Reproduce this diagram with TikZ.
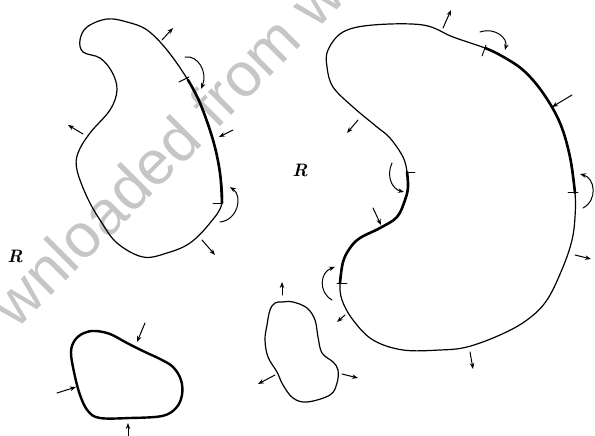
\documentclass[tikz,border=0pt]{standalone}
\usepackage{fontspec}
\usetikzlibrary{arrows.meta}
\newfontfamily\wmfont{Liberation Sans}
\tikzset{
    lab/.style={
        font=\fontsize{18}{20}\selectfont\bfseries\itshape
    }
}

\begin{document}
\begin{tikzpicture}[x=1pt,y=-1pt, line cap=round, line join=round]

\tikzset{
  thin/.style={draw=black, line width=1.2pt},
  thick/.style={draw=black, line width=2.6pt},
  tick/.style={draw=black, line width=0.9pt},
  arr/.style={draw=black, line width=1.0pt, -{Stealth[length=6pt,width=4.5pt]}},
  wmark/.style={font=\wmfont\fontsize{62}{64}\selectfont, text=gray!45},
}

\useasboundingbox (0,0) rectangle (595,436);

% watermark
\begin{scope}
\clip (0,0) rectangle (595,436);
\node[wmark, rotate=45] (wm) at (167,149) {wnloaded from w};
\end{scope}

% region 1 (upper left)
\draw[thin] plot[smooth cycle, tension=0.6] coordinates {
  (107,19) (127,22) (147,30) (167,50) (188,80) (200,103) (213,140) (220,173)
  (222,203) (210,223) (190,243) (167,253) (143,257) (117,243) (100,220)
  (87,197) (77,170) (78,153) (90,133) (110,110) (117,90) (112,72) (100,58)
  (83,52) (80,40) (87,27)};
\draw[thick] plot[smooth, tension=0.6] coordinates {
  (188,80) (200,103) (213,140) (220,173) (222,203)};
\draw[tick] (179,82) -- (189,77);
\draw[tick] (213,203) -- (222,203);

\draw[arr] (162,40) -- (173,28);
\draw[arr] (185,57) .. controls (198,55) and (208,72) .. (201,89);
\draw[arr] (233,130) -- (219,137);
\draw[arr] (83,134) -- (68,125);
\draw[arr] (220,222) .. controls (238,220) and (243,196) .. (230,187);
\draw[arr] (202,240) -- (215,255);

% region 2 (large one, right)
\draw[thin] plot[smooth cycle, tension=0.6] coordinates {
  (343,32) (373,25) (423,25) (453,37) (485,48) (500,55) (523,70) (543,93)
  (560,123) (570,157) (575,193) (575,217) (572,240) (563,267) (547,300)
  (527,320) (500,335) (467,347) (440,350) (403,350) (373,340) (353,320)
  (342,300) (340,283) (343,262) (350,248) (360,238) (380,228) (397,217)
  (405,200) (408,187) (407,172) (403,157) (390,138) (377,127) (353,107)
  (333,87) (327,67) (328,50)};
\draw[thick] plot[smooth, tension=0.6] coordinates {
  (485,48) (500,55) (523,70) (543,93) (560,123) (570,157) (575,193)};
\draw[thick] plot[smooth, tension=0.6] coordinates {
  (407,172) (408,187) (405,200) (397,217) (380,228) (360,238) (350,248)
  (343,262) (340,283)};
\draw[tick] (486,45) -- (482,56);
\draw[tick] (568,192) -- (578,192);
\draw[tick] (407,172) -- (415,172);
\draw[tick] (337,283) -- (347,283);

\draw[arr] (443,28) -- (451,10);
\draw[arr] (480,32) .. controls (495,27) and (508,38) .. (505,50);
\draw[arr] (572,95) -- (552,107);
\draw[arr] (583,208) .. controls (598,200) and (595,178) .. (580,174);
\draw[arr] (575,255) -- (591,259);
\draw[arr] (470,352) -- (473,369);
\draw[arr] (345,315) -- (337,322);
\draw[arr] (332,300) .. controls (318,292) and (320,272) .. (335,267);
\draw[arr] (373,208) -- (381,225);
\draw[arr] (392,163) .. controls (386,176) and (392,189) .. (404,192);
\draw[arr] (358,120) -- (347,133);

% region 3 (small blob)
\draw[thin] plot[smooth cycle, tension=0.6] coordinates {
  (282,302) (293,302) (307,308) (315,320) (318,337) (322,353) (333,362)
  (338,370) (337,383) (330,395) (307,402) (293,398) (283,385) (277,372)
  (268,357) (265,340) (267,325) (270,310) (275,303)};
\draw[arr] (282,295) -- (282,282);
\draw[arr] (275,375) -- (258,384);
\draw[arr] (342,374) -- (358,378);

% region 4 (bottom left, whole boundary thick)
\draw[thick, line width=2.4pt] plot[smooth cycle, tension=0.6] coordinates {
  (95,331) (110,334) (127,343) (145,352) (160,359) (173,367) (181,380)
  (182,395) (176,408) (162,416) (130,418) (100,418) (88,411) (80,395)
  (74,372) (71,352) (75,340) (84,333)};
\draw[arr] (145,323) -- (137,342);
\draw[arr] (57,393) -- (76,387);
\draw[arr] (128,436) -- (128,423);

% labels
\node[lab] (r1) at (300,170) {R};
\node[lab] (r2) at (15,256) {R};

\end{tikzpicture}
\end{document}
